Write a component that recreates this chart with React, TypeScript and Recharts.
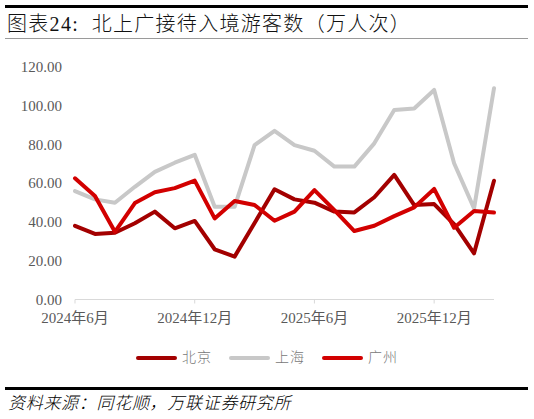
import React from 'react';
import { LineChart, Line, XAxis, YAxis, Legend } from 'recharts';

const months = [
  '2024年6月', '2024年7月', '2024年8月', '2024年9月', '2024年10月', '2024年11月',
  '2024年12月', '2025年1月', '2025年2月', '2025年3月', '2025年4月', '2025年5月',
  '2025年6月', '2025年7月', '2025年8月', '2025年9月', '2025年10月', '2025年11月',
  '2025年12月', '2026年1月', '2026年2月', '2026年3月',
];
const beijing = [38.0, 33.8, 34.4, 39.3, 45.3, 36.7, 40.5, 25.9, 22.1, 39.4, 56.8, 51.6, 49.9, 45.3, 44.9, 52.7, 64.2, 48.7, 49.2, 38.8, 23.8, 61.2];
const shanghai = [55.9, 51.6, 49.9, 58.1, 65.8, 70.5, 74.6, 47.8, 47.8, 79.6, 86.9, 79.6, 76.7, 68.5, 68.5, 80.5, 97.7, 98.5, 108.0, 70.2, 47.0, 108.9];
const guangzhou = [62.5, 53.4, 34.9, 49.7, 55.3, 57.4, 61.3, 41.8, 50.8, 48.7, 40.6, 45.3, 56.4, 46.1, 35.3, 38.0, 43.0, 47.5, 57.0, 37.0, 45.6, 44.8];
const yTicks = [0, 20, 40, 60, 80, 100, 120];

const seriesNames = ['北京', '上海', '广州'];
const seriesColors: Record<string, string> = { '北京': '#a30000', '上海': '#c8c8c8', '广州': '#d20000' };
const drawOrder = ['上海', '北京', '广州'];

const data = months.map((m, i) => ({
  month: m,
  '北京': beijing[i],
  '上海': shanghai[i],
  '广州': guangzhou[i],
}));

const FONT = '"Liberation Serif", "Noto Sans CJK SC", serif';
const TICK_MARGIN = 13;

const XTick = (props: any) => {
  const { x, y, payload } = props;
  const off = payload && typeof payload.offset === 'number' ? payload.offset : 0;
  const axisY = y - TICK_MARGIN;
  return (
    <g>
      <line x1={x - off} x2={x - off} y1={axisY} y2={axisY + 4} stroke="#d9d9d9" strokeWidth={1} />
      <text x={x} y={y} dy="0.71em" textAnchor="middle" fill="#595959" fontSize={15} fontFamily={FONT}>
        {payload.value}
      </text>
    </g>
  );
};

const LegendContent = () => (
  <div style={{ display: 'flex', justifyContent: 'center', alignItems: 'center', height: 16 }}>
    {seriesNames.map((n, i) => (
      <div key={n} style={{ display: 'flex', alignItems: 'center', marginLeft: i === 0 ? 0 : 17 }}>
        <div style={{ width: 41, height: 4, borderRadius: 2, background: seriesColors[n] }} />
        <span style={{ marginLeft: 5, fontSize: 14, color: '#777', fontWeight: 300, letterSpacing: 1, fontFamily: FONT, lineHeight: '16px' }}>{n}</span>
      </div>
    ))}
  </div>
);

export default function App() {
  return (
    <div style={{ position: 'absolute', left: 0, top: 0, width: 534, height: 419, background: '#fff', overflow: 'hidden' }}>
      <div style={{ position: 'absolute', left: 5, top: 5, width: 523, height: 3, background: '#000' }} />
      <div style={{ position: 'absolute', left: 7, top: 11, fontSize: 20, lineHeight: '26px', color: '#111', fontWeight: 300, letterSpacing: 1.3, fontFamily: FONT, whiteSpace: 'nowrap' }}>
        图表24:&nbsp;&nbsp;北上广接待入境游客数（万人次）
      </div>
      <div style={{ position: 'absolute', left: 5, top: 38, width: 523, height: 1, background: '#9a9a9a' }} />
      <div style={{ position: 'absolute', left: 0, top: 50 }}>
        <LineChart width={534} height={330} data={data} margin={{ top: 16.7, right: 40, bottom: 50.5, left: 0 }}>
          <XAxis
            dataKey="month"
            interval={5}
            tickLine={false}
            tickSize={0}
            tickMargin={TICK_MARGIN}
            height={30}
            axisLine={{ stroke: '#d9d9d9', strokeWidth: 1 }}
            tick={<XTick />}
          />
          <YAxis
            domain={[0, 120]}
            ticks={yTicks}
            interval={0}
            width={75}
            axisLine={false}
            tickLine={false}
            tickMargin={7}
            tickFormatter={(v: number) => v.toFixed(2)}
            tick={{ fill: '#595959', fontSize: 15, fontFamily: FONT }}
          />
          <Legend
            verticalAlign="middle"
            align="center"
            content={<LegendContent />}
            wrapperStyle={{ position: 'absolute', top: 300, left: 0, width: 534 }}
          />
          {drawOrder.map((n) => (
            <Line
              key={n}
              type="linear"
              dataKey={n}
              stroke={seriesColors[n]}
              strokeWidth={4}
              strokeLinejoin="round"
              strokeLinecap="round"
              dot={false}
              activeDot={false}
              isAnimationActive={false}
            />
          ))}
        </LineChart>
      </div>
      <div style={{ position: 'absolute', left: 5, top: 387, width: 523, height: 3, background: '#000' }} />
      <div style={{ position: 'absolute', left: 8, top: 393, fontSize: 17, lineHeight: '22px', fontStyle: 'italic', fontWeight: 300, letterSpacing: 0.7, color: '#000', fontFamily: FONT, whiteSpace: 'nowrap' }}>
        资料来源：同花顺，万联证券研究所
      </div>
    </div>
  );
}
